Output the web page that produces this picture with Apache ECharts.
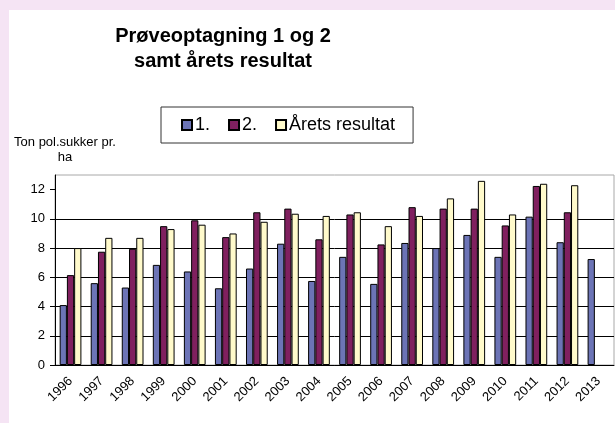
<!DOCTYPE html>
<html>
<head>
<meta charset="utf-8">
<script src="https://cdn.jsdelivr.net/npm/echarts@6/dist/echarts.min.js"></script>
<style>
  html, body { margin: 0; padding: 0; background: #f5e4f4; }
  #chart { position: absolute; left: 9px; top: 10px; width: 606px; height: 413px; }
</style>
</head>
<body>
<div id="chart"></div>
<script>
// år på x-aksen
const years = ['1996', '1997', '1998', '1999', '2000', '2001', '2002', '2003', '2004',
  '2005', '2006', '2007', '2008', '2009', '2010', '2011', '2012', '2013']
// 1. prøveoptagning
const sample1 = [4.1, 5.6, 5.3, 6.85, 6.4, 5.25, 6.6, 8.3, 5.75, 7.4, 5.55, 8.35, 8.0, 8.9, 7.4, 10.15, 8.4, 7.25]
// 2. prøveoptagning
const sample2 = [6.15, 7.75, 7.95, 9.5, 9.9, 8.75, 10.45, 10.7, 8.6, 10.3, 8.25, 10.8, 10.7, 10.7, 9.55, 12.25, 10.45, null]
// årets resultat
const result = [8.0, 8.7, 8.7, 9.3, 9.6, 9.0, 9.8, 10.35, 10.2, 10.45, 9.5, 10.2, 11.4, 12.6, 10.3, 12.4, 12.3, null]
const yTicks = [0, 2, 4, 6, 8, 10, 12]

const COLORS = { blue: '#6c74b6', plum: '#80205f', ivory: '#fffacb' }

const chart = echarts.init(document.getElementById('chart'))

function bar(name, data, color) {
  return {
    name,
    type: 'bar',
    data,
    barGap: '0%',
    barCategoryGap: '30%',
    itemStyle: { color, borderColor: '#000', borderWidth: 1 },
  }
}

chart.setOption({
  backgroundColor: '#fff',
  animation: false,
  textStyle: { fontFamily: 'Liberation Sans, Arial, sans-serif', color: '#000' },
  title: [
    {
      text: 'Prøveoptagning 1 og 2\nsamt årets resultat',
      left: 209,
      top: 9,
      textAlign: 'center',
      textStyle: { fontSize: 20, fontWeight: 'bold', lineHeight: 25, color: '#000' },
    },
    {
      text: 'Ton pol.sukker pr.\nha',
      left: 51,
      top: 120,
      textAlign: 'center',
      textStyle: { fontSize: 13, fontWeight: 'normal', lineHeight: 15, color: '#000' },
    },
  ],
  legend: {
    left: 152,
    top: 97,
    padding: [9, 18, 9, 20],
    itemGap: 18,
    itemWidth: 10,
    itemHeight: 10,
    icon: 'rect',
    borderColor: '#333',
    borderWidth: 1,
    backgroundColor: '#fff',
    textStyle: { fontSize: 18, color: '#000', padding: [0, 0, 0, -2] },
  },
  grid: {
    left: 46,
    top: 165,
    width: 559,
    height: 190,
    show: true,
    borderColor: '#a8a8a8',
    borderWidth: 1,
  },
  xAxis: {
    type: 'category',
    data: years,
    axisLine: { lineStyle: { color: '#000' } },
    axisTick: { length: 4, lineStyle: { color: '#000' } },
    axisLabel: { rotate: 45, interval: 0, fontSize: 13, color: '#000', margin: 14 },
  },
  yAxis: {
    type: 'value',
    min: 0,
    max: 13,
    interval: 2,
    axisLine: { show: true, lineStyle: { color: '#000' } },
    axisTick: { show: true, length: 5, customValues: yTicks, lineStyle: { color: '#000' } },
    axisLabel: { fontSize: 13, color: '#000', margin: 10, customValues: yTicks },
    splitLine: { showMaxLine: false, lineStyle: { color: '#000', width: 1 } },
  },
  series: [
    bar('1.', sample1, COLORS.blue),
    bar('2.', sample2, COLORS.plum),
    bar('Årets resultat', result, COLORS.ivory),
  ],
})
</script>
</body>
</html>
